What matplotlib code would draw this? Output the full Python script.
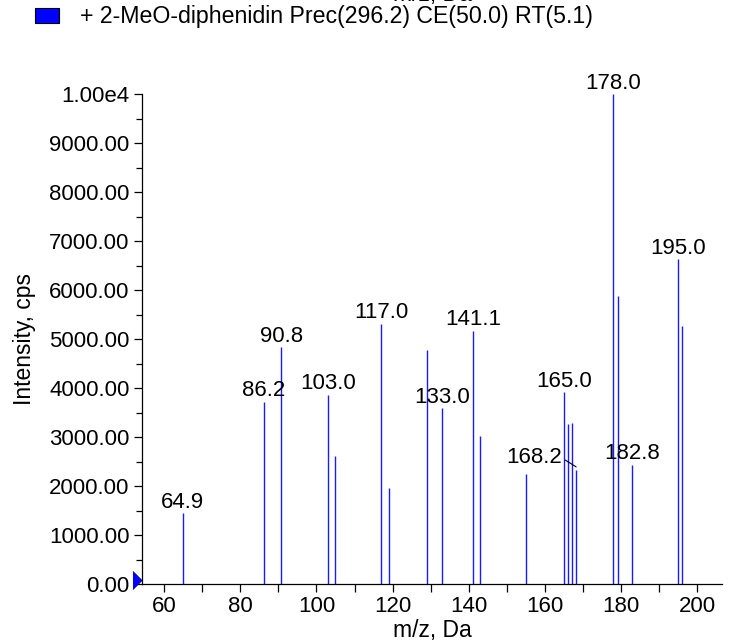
import matplotlib
matplotlib.use("Agg")
import matplotlib.pyplot as plt
from matplotlib.patches import Rectangle
from matplotlib.transforms import offset_copy
from matplotlib.ticker import MultipleLocator, FuncFormatter

plt.rcParams['font.family'] = ['Liberation Sans', 'DejaVu Sans']

# Data
mz = [64.9, 86.2, 90.8, 103.0, 105.0, 117.0, 119.0, 129.0, 133.0, 141.1, 143.0,
      155.0, 165.0, 166.0, 167.0, 168.2, 178.0, 179.1, 182.8, 195.0, 196.1]
intensity = [1440, 3720, 4830, 3860, 2610, 5310, 1960, 4780, 3590, 5170, 3030,
             2240, 3910, 3265, 3280, 2330, 9990, 5880, 2430, 6625, 5260]
labeled = [64.9, 86.2, 90.8, 103.0, 117.0, 133.0, 141.1, 165.0, 178.0, 182.8, 195.0]
leader_label = 168.2
title_text = "+ 2-MeO-diphenidin Prec(296.2) CE(50.0) RT(5.1)"
xlabel = "m/z, Da"
ylabel = "Intensity, cps"

FS = 16
fig = plt.figure(figsize=(7.29, 6.41), dpi=100)
ax = fig.add_axes([142/729, 1-584/641, (722-142)/729, (584-94)/641])

ax.vlines(mz, 0, intensity, colors='#1a1aff', linewidth=1.0)

ax.set_xlim(54.2, 206.5)
ax.set_ylim(0, 10000)

for s in ['top', 'right']:
    ax.spines[s].set_visible(False)
for s in ['left', 'bottom']:
    ax.spines[s].set_linewidth(0.9)

ax.xaxis.set_major_locator(MultipleLocator(20))
ax.xaxis.set_minor_locator(MultipleLocator(10))
ax.yaxis.set_major_locator(MultipleLocator(1000))
ax.yaxis.set_minor_locator(MultipleLocator(500))

def yfmt(v, p):
    if abs(v - 10000) < 1e-6:
        return "1.00e4"
    return "%.2f" % v
ax.yaxis.set_major_formatter(FuncFormatter(yfmt))
ax.tick_params(axis='both', which='major', direction='out', length=6, width=0.9,
               labelsize=FS, pad=3)
ax.tick_params(axis='x', which='minor', direction='out', length=6, width=0.9)
ax.tick_params(axis='y', which='minor', direction='out', length=4, width=0.9)

ax.set_xlabel(xlabel, fontsize=16.5, labelpad=1)
ax.set_ylabel(ylabel, fontsize=16.5, labelpad=9)

# peak labels
for x, y in zip(mz, intensity):
    if x in labeled:
        ax.annotate("%.1f" % x, xy=(x, y), xytext=(0, 4), textcoords='offset points',
                    ha='center', va='baseline', fontsize=FS)
    if x == leader_label:
        ax.annotate("%.1f" % x, xy=(x, y + 60), xytext=(-30, 7), textcoords='offset points',
                    ha='center', va='center', fontsize=FS,
                    arrowprops=dict(arrowstyle='-', color='black', lw=0.8,
                                    shrinkA=0, shrinkB=0, relpos=(1.0, 0.45)))

# triangle marker at origin
tr = offset_copy(ax.get_yaxis_transform(), fig=fig, x=-5, y=4, units='dots')
ax.plot([0], [0], marker=[(-0.5, -1), (0.5, 0), (-0.5, 1)], markersize=13,
        markerfacecolor='#0000ff', markeredgecolor='#000080', markeredgewidth=0.6,
        transform=tr, clip_on=False, linestyle='none')

# legend-like header
fig.patches.append(Rectangle((35/729, 1-23/641), 24/729, 15/641, transform=fig.transFigure,
                             facecolor='#0000ff', edgecolor='black', linewidth=0.8))
fig.text(80/729, 1-17/641, title_text, fontsize=16.7, va='center', ha='left')
fig.text(432/729, 1+6/641, xlabel, fontsize=16.5, va='center', ha='center')

fig.savefig("out.png", dpi=100)
